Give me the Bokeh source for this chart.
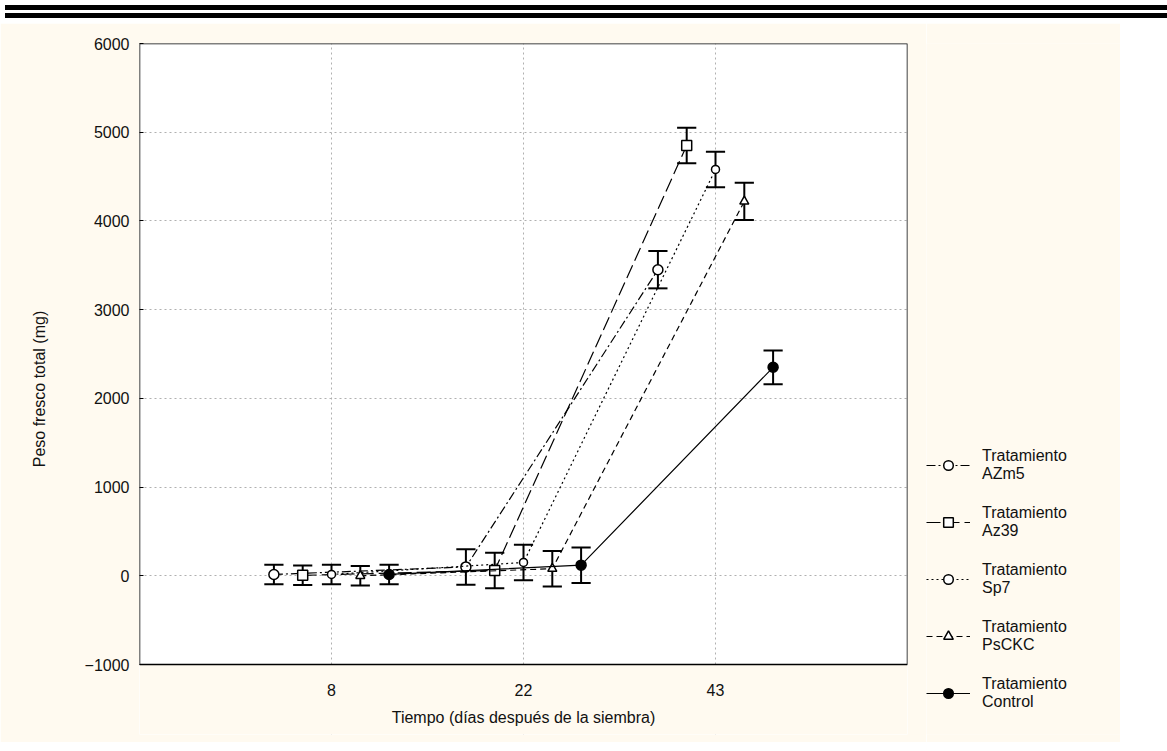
from bokeh.plotting import figure
from bokeh.models import (Legend, LegendItem, Div, FixedTicker, Range1d,
                          ColumnDataSource, BoxAnnotation)
from bokeh.core.properties import value
from bokeh.layouts import column, row
from bokeh.embed import file_html
from bokeh.resources import INLINE

# ---- data ----
days = ["8", "22", "43"]
day_pos = [1, 2, 3]
series_names = ["Tratamiento\nAZm5", "Tratamiento\nAz39", "Tratamiento\nSp7",
                "Tratamiento\nPsCKC", "Tratamiento\nControl"]
azm5 = [15, 100, 3450]
az39 = [5, 60, 4850]
sp7 = [15, 150, 4580]
psckc = [0, 80, 4220]
control = [15, 120, 2350]
azm5_err = [110, 200, 210]
az39_err = [110, 200, 200]
sp7_err = [110, 200, 200]
psckc_err = [110, 200, 210]
control_err = [110, 200, 190]
y_ticks = list(range(-1000, 6001, 1000))
x_title = "Tiempo (días después de la siembra)"
y_title = "Peso fresco total (mg)"

values = [azm5, az39, sp7, psckc, control]
errors = [azm5_err, az39_err, sp7_err, psckc_err, control_err]
dashes = ["9 3 2 3", "14 5", "2 3", "6 4", "solid"]
markers = ["circle", "square", "circle", "triangle", "circle"]
msizes = [10, 10, 8, 9, 10]
fills = ["white", "white", "white", "white", "black"]

CREAM = "#fffaf0"
FONT = "Liberation Sans"

# layout (pixels)
PLOT_H = 621          # visible plot box height (-1000 .. 6000)
EXTRA = 70            # frame space below the plot box for the x labels
ymin, ymax = y_ticks[0], y_ticks[-1]
y_bottom = ymin - (ymax - ymin) * EXTRA / PLOT_H

p = figure(width=926, height=719, output_backend="svg", toolbar_location=None,
           x_range=Range1d(0, 4), y_range=Range1d(y_bottom, ymax),
           x_axis_location=None,
           min_border_left=139, min_border_right=19, min_border_top=20,
           min_border_bottom=8)
p.border_fill_color = CREAM
p.background_fill_color = "white"
p.outline_line_color = None

p.yaxis.ticker = FixedTicker(ticks=y_ticks)
p.yaxis.major_label_text_font = FONT
p.yaxis.major_label_text_font_size = "16px"
p.yaxis.major_label_text_color = "#111111"
p.yaxis.axis_label = y_title
p.yaxis.axis_label_text_font = FONT
p.yaxis.axis_label_text_font_size = "16px"
p.yaxis.axis_label_text_font_style = "normal"
p.yaxis.axis_label_text_color = "#111111"
p.yaxis.major_tick_in = 4
p.yaxis.major_tick_out = 0
p.yaxis.major_tick_line_color = "black"
p.yaxis.minor_tick_line_color = None
p.yaxis.axis_line_color = None
p.yaxis.major_label_standoff = 10
p.yaxis.axis_label_standoff = 34

p.xgrid.ticker = FixedTicker(ticks=day_pos)
p.grid.grid_line_color = "#b0b0b0"
p.grid.grid_line_dash = "2 3"
p.grid.grid_line_width = 1

# cream area under the plot box (covers grid below -1000)
p.add_layout(BoxAnnotation(top=ymin, fill_color=CREAM, fill_alpha=1,
                           line_color=None, level="underlay"))
# plot box border
p.add_layout(BoxAnnotation(bottom=ymin, fill_alpha=0, line_color="black",
                           line_alpha=1, line_width=1.5))

# x tick labels and title
p.text(x=day_pos, y=[ymin] * len(day_pos), text=days, y_offset=25,
       text_align="center", text_baseline="middle",
       text_font=value(FONT), text_font_size="16px", text_color="#111111")
p.text(x=[sum(day_pos) / len(day_pos)], y=[ymin], text=[x_title], y_offset=53,
       text_align="center", text_baseline="middle",
       text_font=value(FONT), text_font_size="16px", text_color="#111111")

# legend panel figure (series drawn off its visible range; only the legend shows)
pl = figure(width=194, height=719, output_backend="svg", toolbar_location=None,
            x_axis_location=None, y_axis_location=None,
            x_range=Range1d(100, 101), y_range=Range1d(100000, 100001),
            min_border=0)
pl.border_fill_color = CREAM
pl.background_fill_color = CREAM
pl.outline_line_color = None
pl.grid.visible = False

offset = 0.15
cap = 0.05
items = []
for i, (vals, errs) in enumerate(zip(values, errors)):
    xs = [k + (i - 2) * offset for k in day_pos]
    src = ColumnDataSource(dict(
        x=xs, y=vals,
        lo=[v - e for v, e in zip(vals, errs)],
        hi=[v + e for v, e in zip(vals, errs)],
        xl=[x - cap for x in xs], xr=[x + cap for x in xs]))
    p.line("x", "y", source=src, line_color="black", line_width=1.2,
           line_dash=dashes[i])
    p.segment(x0="x", y0="lo", x1="x", y1="hi", source=src,
              line_color="black", line_width=2)
    p.segment(x0="xl", y0="hi", x1="xr", y1="hi", source=src,
              line_color="black", line_width=2)
    p.segment(x0="xl", y0="lo", x1="xr", y1="lo", source=src,
              line_color="black", line_width=2)
    p.scatter("x", "y", source=src, marker=markers[i], size=msizes[i],
              fill_color=fills[i], line_color="black", line_width=1.5)
    lk = pl.line("x", "y", source=src, line_color="black", line_width=1.2,
                 line_dash=dashes[i])
    sk = pl.scatter("x", "y", source=src, marker=markers[i], size=msizes[i] - 1,
                    fill_color=fills[i], line_color="black", line_width=1.5)
    items.append(LegendItem(label=series_names[i], renderers=[lk, sk]))

legend = Legend(items=items, location=(0, 16), border_line_color=None,
                background_fill_alpha=0, label_text_font=FONT,
                label_text_font_size="16px", label_text_color="#111111",
                glyph_width=44, glyph_height=24, label_height=50,
                spacing=7, padding=0, label_standoff=12, margin=0)
pl.add_layout(legend, "center")

bars = Div(text='<div style="width:1166px;height:5px;background:#000;margin-top:0px"></div>'
                '<div style="width:1166px;height:5px;background:#000;margin-top:3px"></div>',
           width=1166, height=13)

layout = column(bars, row(p, pl, spacing=0), spacing=0)
open("out.html", "w").write(file_html(layout, INLINE))
